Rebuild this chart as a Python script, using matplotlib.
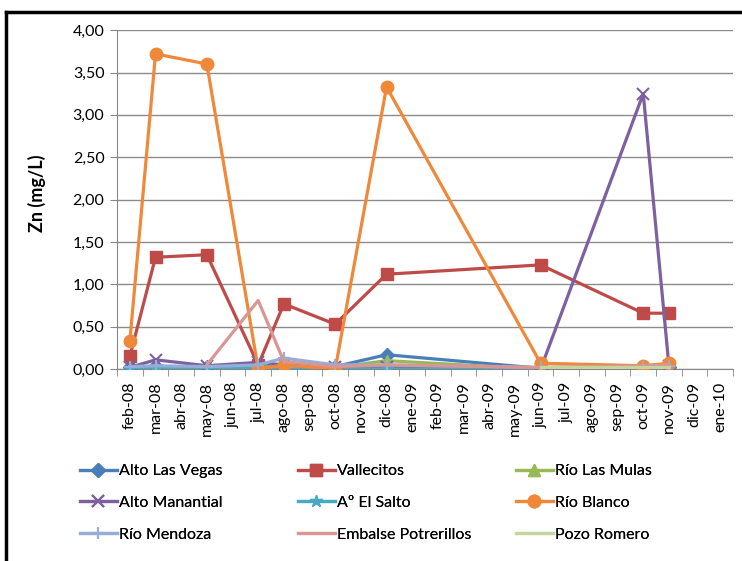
"""
Zn concentration per sampling site, feb-08 to ene-10.
"""

import matplotlib
matplotlib.use('Agg')
import matplotlib.pyplot as plt
from matplotlib.lines import Line2D
import numpy as np

plt.rcParams['font.family'] = ['Lato', 'DejaVu Sans']

months = ['feb-08', 'mar-08', 'abr-08', 'may-08', 'jun-08', 'jul-08', 'ago-08',
          'sep-08', 'oct-08', 'nov-08', 'dic-08', 'ene-09', 'feb-09', 'mar-09',
          'abr-09', 'may-09', 'jun-09', 'jul-09', 'ago-09', 'sep-09', 'oct-09',
          'nov-09', 'dic-09', 'ene-10']

# sampling dates (index into months)
samples = ['feb-08', 'mar-08', 'may-08', 'jul-08', 'ago-08', 'oct-08',
           'dic-08', 'jun-09', 'oct-09', 'nov-09']

nan = np.nan
alto_las_vegas = [0.02, 0.03, 0.02, 0.03, 0.05, 0.03, 0.17, 0.01, 0.02, 0.02]
vallecitos = [0.15, 1.32, 1.35, 0.05, 0.77, 0.53, 1.12, 1.23, 0.66, 0.66]
rio_las_mulas = [0.00, 0.01, 0.00, 0.02, 0.04, 0.02, 0.10, 0.00, 0.00, 0.01]
alto_manantial = [0.02, 0.11, 0.04, 0.08, 0.05, 0.02, 0.02, 0.00, 3.25, 0.04]
el_salto = [0.00, 0.01, 0.02, 0.01, 0.00, 0.01, 0.00, 0.01, 0.01, 0.01]
rio_blanco = [0.33, 3.72, 3.60, 0.00, 0.05, 0.00, 3.33, 0.07, 0.04, 0.07]
rio_mendoza = [0.03, 0.04, 0.03, 0.05, 0.13, 0.05, 0.05, 0.02, 0.03, 0.04]
embalse_potrerillos = [nan, nan, 0.05, 0.81, 0.09, 0.03, 0.05, 0.02, 0.04, 0.05]
pozo_romero = [nan, nan, nan, nan, nan, nan, nan, 0.03, 0.03, 0.03]

series = [
    ('Alto Las Vegas', alto_las_vegas, '#4A7EBB', 'D', 7),
    ('Vallecitos', vallecitos, '#BE4B48', 's', 9),
    ('Río Las Mulas', rio_las_mulas, '#98B954', '^', 9),
    ('Alto Manantial', alto_manantial, '#7D60A0', 'x', 9),
    ('Aº El Salto', el_salto, '#46AAC5', '*', 9),
    ('Río Blanco', rio_blanco, '#F0883A', 'o', 9),
    ('Río Mendoza', rio_mendoza, '#95AED8', '+', 9),
    ('Embalse Potrerillos', embalse_potrerillos, '#D99694', None, 0),
    ('Pozo Romero', pozo_romero, '#C3D69B', None, 0),
]

fig = plt.figure(figsize=(7.42, 5.61), dpi=100)
ax = fig.add_axes([0.1577, 0.342, 0.8303, 0.6043])

x = np.array([months.index(m) for m in samples])
handles = []
for name, vals, color, marker, ms in series:
    y = np.array(vals, dtype=float)
    ok = ~np.isnan(y)
    h, = ax.plot(x[ok], y[ok], color=color, linewidth=2.3, marker=marker,
                 markersize=ms, markeredgewidth=1.5 if marker in ('x', '+') else 1,
                 markeredgecolor=color, label=name, zorder=3)
    handles.append(h)

ax.set_xlim(-0.5, len(months) - 0.5)
ax.set_ylim(0, 4)
yt = np.arange(0, 4.01, 0.5)
ax.set_yticks(yt)
ax.set_yticklabels([f'{v:.2f}'.replace('.', ',') for v in yt])
ax.set_xticks(range(len(months)))
ax.set_xticklabels(months, rotation=90)
ax.set_xticks(np.arange(-0.5, len(months), 1), minor=True)
ax.tick_params(axis='x', which='major', length=0, labelsize=11.5, pad=9)
ax.tick_params(axis='x', which='minor', length=5, color='#868686')
ax.tick_params(axis='y', length=5, color='#868686', labelsize=11.5, pad=4)
ax.grid(axis='y', color='#8C8C8C', linewidth=1, zorder=0)
for side in ('top', 'right'):
    ax.spines[side].set_visible(False)
for side in ('left', 'bottom'):
    ax.spines[side].set_color('#868686')
ax.set_ylabel('Zn (mg/L)', fontsize=13, fontweight='bold')
ax.yaxis.set_label_coords(-0.115, 0.52)

# legend: three equal-width columns, filled row by row
col_x = [80, 298, 516]
for c in range(3):
    idx = [c, c + 3, c + 6]
    leg = fig.legend([handles[i] for i in idx], [series[i][0] for i in idx],
                     loc='upper left', bbox_to_anchor=(col_x[c] / 742, 1 - 464 / 561),
                     frameon=False, fontsize=11.5, handlelength=2.3,
                     handletextpad=0.15, labelspacing=1.1, borderaxespad=0,
                     borderpad=0)
    fig.add_artist(leg)

# outer frame (top and left only, as cropped)
fig.add_artist(Line2D([6 / 742, 6 / 742], [0, 1 - 12 / 561], color='black',
                      linewidth=2.5, transform=fig.transFigure))
fig.add_artist(Line2D([6 / 742, 1], [1 - 12 / 561, 1 - 12 / 561], color='black',
                      linewidth=2.5, transform=fig.transFigure))

plt.savefig('out.png', dpi=100)
plt.close()
